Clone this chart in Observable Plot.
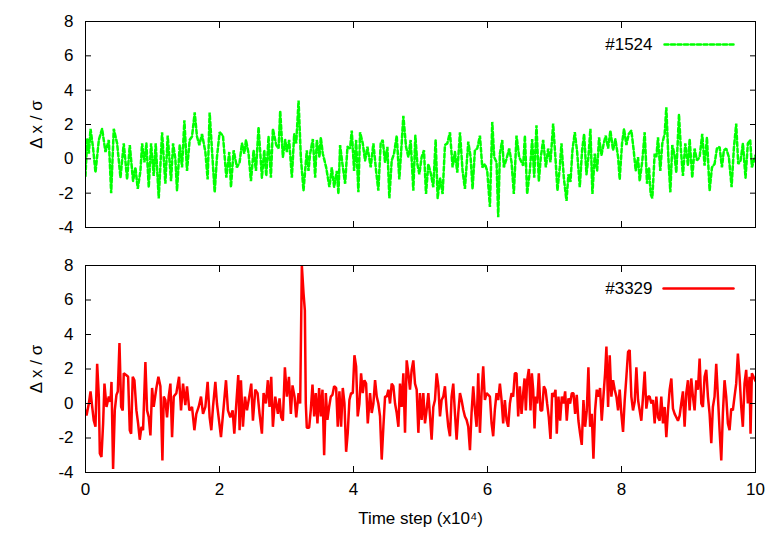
<!DOCTYPE html>
<html><head><meta charset="utf-8">
<script src="https://cdn.jsdelivr.net/npm/d3@7"></script>
<script src="https://cdn.jsdelivr.net/npm/@observablehq/plot@0.6"></script>
<style>
html,body{margin:0;padding:0;background:#fff;}
#chart svg{display:block;}
</style></head><body><div id="chart"></div>
<script>
// [time step (x10^4), Δx/σ]
const series1524 = [[0,-1.0],[0.025,1.2],[0.05,0.3],[0.075,1.75],[0.114,0.6],[0.149,-0.8],[0.199,1.1],[0.248,1.75],[0.298,0.4],[0.348,1.1],[0.383,-2.0],[0.422,1.75],[0.472,0.9],[0.522,-1.1],[0.571,0.9],[0.621,-1.2],[0.661,0.8],[0.71,-1.3],[0.745,-0.5],[0.78,-1.75],[0.82,-0.7],[0.845,0.9],[0.879,-0.2],[0.909,0.9],[0.944,-1.65],[0.979,0.9],[1.018,-1.0],[1.048,0.9],[1.093,-2.3],[1.143,1.55],[1.192,-1.45],[1.227,1.35],[1.277,-1.3],[1.307,0.9],[1.341,0],[1.366,-1.85],[1.406,0.8],[1.441,-0.5],[1.476,2.25],[1.515,-0.7],[1.555,1.1],[1.59,1.3],[1.63,2.7],[1.664,1.3],[1.699,0.8],[1.739,1.45],[1.789,0.4],[1.823,-1.2],[1.853,2.7],[1.888,0.5],[1.928,-1.95],[1.962,0.1],[2.002,1.55],[2.052,1.35],[2.102,-1.1],[2.146,0.4],[2.171,-1.65],[2.211,0.5],[2.26,-0.5],[2.3,-0.2],[2.335,0.9],[2.37,0.3],[2.395,1.1],[2.434,0.3],[2.469,-1.3],[2.509,0.5],[2.544,-0.7],[2.583,1.85],[2.633,-1.1],[2.668,0.5],[2.698,-1.0],[2.732,1.3],[2.767,-1.1],[2.797,1.75],[2.847,0.8],[2.882,0.6],[2.906,2.8],[2.946,0.1],[2.981,1.1],[3.006,0.4],[3.04,1.1],[3.08,-1.1],[3.115,1.45],[3.145,0.9],[3.18,3.4],[3.214,0.1],[3.254,-1.85],[3.303,0.5],[3.328,-0.7],[3.353,0.3],[3.393,1.15],[3.428,-1.1],[3.452,1.1],[3.492,0.1],[3.512,1.25],[3.542,0.3],[3.592,-0.5],[3.641,-1.65],[3.676,-0.5],[3.711,-1.65],[3.751,-0.7],[3.775,-2.05],[3.8,0.8],[3.835,-0.3],[3.875,-1.45],[3.91,0.7],[3.949,0.6],[3.974,1.65],[4.009,-0.7],[4.039,1.1],[4.073,-1.95],[4.098,1.55],[4.138,0.9],[4.173,-0.1],[4.208,0.7],[4.257,-0.5],[4.297,0.9],[4.337,-0.7],[4.371,-1.85],[4.406,0.9],[4.436,1.1],[4.471,-0.2],[4.506,0.7],[4.535,-2.3],[4.57,-0.1],[4.605,0.3],[4.645,1.35],[4.684,-1.2],[4.719,0.9],[4.744,2.5],[4.784,0.7],[4.819,0.1],[4.853,1.1],[4.893,-1.85],[4.923,1.35],[4.953,-0.3],[4.983,-0.9],[5.017,0.1],[5.052,0.5],[5.082,-2.05],[5.117,-0.3],[5.156,-0.9],[5.191,-1.65],[5.226,1.1],[5.256,-2.3],[5.291,-1.1],[5.33,-2.05],[5.365,0.8],[5.4,0.9],[5.44,1.55],[5.479,-0.5],[5.514,0.4],[5.549,-0.8],[5.589,1.55],[5.628,-0.7],[5.663,-1.75],[5.713,1.0],[5.748,0.1],[5.777,-1.75],[5.812,0.5],[5.847,0.6],[5.887,1.35],[5.922,-0.5],[5.961,-0.3],[5.996,-0.7],[6.036,-2.8],[6.071,2.15],[6.1,0.1],[6.135,-0.2],[6.16,-3.4],[6.185,0.3],[6.22,1.1],[6.244,-0.5],[6.284,0],[6.324,0.6],[6.359,-0.2],[6.393,-2.05],[6.433,1.35],[6.473,0.1],[6.533,-0.4],[6.558,1.35],[6.592,-2.05],[6.632,-0.7],[6.667,1.15],[6.697,-1.1],[6.731,1.95],[6.766,-1.3],[6.796,0.1],[6.831,1.1],[6.871,-0.5],[6.905,0.6],[6.94,-0.2],[6.98,2.05],[7.02,-0.3],[7.044,-1.85],[7.079,-0.5],[7.104,0.9],[7.139,-1.1],[7.179,-2.45],[7.208,-0.9],[7.238,-1.35],[7.268,0.5],[7.303,1.55],[7.338,0.4],[7.377,-1.65],[7.412,0.5],[7.442,1.45],[7.477,-0.9],[7.506,0.1],[7.536,1.75],[7.566,-2.05],[7.601,0.3],[7.636,-0.7],[7.665,1.25],[7.7,0.2],[7.735,0.9],[7.765,1.35],[7.8,0.6],[7.834,1.65],[7.874,0.5],[7.909,1.15],[7.949,0.1],[7.973,-1.2],[8.008,0.9],[8.038,1.75],[8.073,0.8],[8.108,1.45],[8.147,1.65],[8.182,0.5],[8.212,-0.7],[8.247,0.1],[8.271,-1.3],[8.311,-0.1],[8.346,1.55],[8.381,-1.45],[8.411,-0.5],[8.435,-2.05],[8.46,-2.3],[8.495,0.3],[8.52,0.1],[8.545,1.25],[8.579,-0.7],[8.609,0.9],[8.644,1.45],[8.669,3.0],[8.699,0.1],[8.729,-1.95],[8.758,0.8],[8.788,0.3],[8.818,-0.8],[8.858,2.6],[8.887,0.5],[8.917,-1.0],[8.952,0.9],[8.992,-0.4],[9.017,1.15],[9.056,-1.1],[9.091,0.6],[9.126,-0.1],[9.166,0.1],[9.205,1.45],[9.24,-0.4],[9.275,1.25],[9.315,-1.85],[9.35,-0.5],[9.389,-0.3],[9.424,0.6],[9.464,0.7],[9.499,-0.5],[9.528,0.5],[9.563,0.6],[9.603,0.1],[9.643,-1.65],[9.677,0.6],[9.712,2.05],[9.742,-0.3],[9.777,-0.1],[9.812,0.9],[9.851,-1.1],[9.886,0.9],[9.921,1.1],[9.946,-0.5],[10,0.2]];

const series3329 = [[0,-0.4],[0.015,-0.7],[0.05,0],[0.075,0.7],[0.1,-0.2],[0.124,-1.0],[0.149,-1.35],[0.174,2.3],[0.199,0.4],[0.214,-2.9],[0.238,-3.1],[0.263,-1.15],[0.283,1.15],[0.313,-0.2],[0.348,0.4],[0.373,0.1],[0.388,1.25],[0.412,-3.8],[0.437,-0.4],[0.462,0.5],[0.482,0.7],[0.507,3.5],[0.532,-0.2],[0.556,-0.4],[0.571,1.75],[0.606,1.65],[0.636,1.55],[0.661,-1.55],[0.681,-1.75],[0.705,1.55],[0.73,1.35],[0.76,-0.4],[0.785,-1.15],[0.81,-2.1],[0.835,-1.35],[0.859,-1.55],[0.894,2.4],[0.919,-0.4],[0.944,-0.8],[0.969,-1.85],[0.994,0.9],[1.018,-0.2],[1.058,0.9],[1.088,1.55],[1.118,1.0],[1.148,-3.3],[1.168,0.4],[1.192,0.2],[1.217,-0.8],[1.242,0.4],[1.267,1.15],[1.292,-1.95],[1.317,0.4],[1.356,0.6],[1.396,1.55],[1.426,-0.4],[1.456,1.15],[1.49,-0.1],[1.515,1.0],[1.55,-0.4],[1.59,-0.2],[1.625,-1.55],[1.654,-0.6],[1.689,-0.2],[1.724,0.4],[1.754,-0.6],[1.789,-0.2],[1.823,1.25],[1.853,-0.8],[1.878,-1.55],[1.903,-0.2],[1.938,1.25],[1.962,0],[1.987,-0.8],[2.022,-1.95],[2.062,-0.2],[2.097,1.35],[2.126,-0.4],[2.161,-0.8],[2.196,-0.4],[2.221,-1.75],[2.251,0],[2.28,1.65],[2.3,-1.55],[2.32,1.35],[2.35,-1.35],[2.38,0.4],[2.41,-0.4],[2.444,0.4],[2.474,1.15],[2.499,-1.0],[2.534,0.8],[2.568,0.6],[2.598,-0.6],[2.633,-1.75],[2.658,0.6],[2.693,0],[2.722,1.35],[2.747,-0.2],[2.772,1.55],[2.797,-1.35],[2.832,0.4],[2.872,-0.6],[2.896,0.3],[2.921,-0.8],[2.946,-1.0],[2.976,2.1],[3.006,0.4],[3.036,1.55],[3.065,-0.6],[3.09,1.05],[3.12,0.4],[3.145,-0.8],[3.18,0.6],[3.204,0],[3.229,8.0],[3.254,6.4],[3.274,5.4],[3.288,0],[3.303,-1.4],[3.338,-1.4],[3.363,-0.35],[3.388,1.1],[3.413,-0.75],[3.437,0.6],[3.462,-1.15],[3.487,0.9],[3.512,-0.75],[3.537,0.8],[3.562,-3.0],[3.587,0.6],[3.611,-0.95],[3.636,-0.2],[3.661,0.4],[3.686,0.5],[3.711,1.0],[3.741,0.9],[3.765,-1.35],[3.79,0.7],[3.815,-1.35],[3.84,0.9],[3.865,0],[3.89,-2.8],[3.914,-1.7],[3.939,0.2],[3.964,0.6],[3.989,0.6],[4.014,2.8],[4.039,2.15],[4.063,-0.75],[4.088,0],[4.113,1.75],[4.138,0.6],[4.163,1.35],[4.188,1.15],[4.213,-1.15],[4.247,0.6],[4.272,-0.55],[4.297,0],[4.322,1.35],[4.347,0.4],[4.371,0],[4.396,-0.75],[4.421,-3.25],[4.446,-1.35],[4.471,0.4],[4.496,0.4],[4.521,0.8],[4.545,0],[4.57,1.15],[4.595,1.0],[4.62,0],[4.645,-0.55],[4.67,-1.35],[4.694,1.15],[4.719,-0.2],[4.744,1.75],[4.769,-1.7],[4.794,2.5],[4.819,1.75],[4.843,0.8],[4.868,1.95],[4.893,2.5],[4.918,1.15],[4.943,0.8],[4.968,-1.7],[4.992,0.6],[5.017,-0.95],[5.042,0.6],[5.067,-1.15],[5.092,-0.35],[5.117,0.6],[5.142,-0.75],[5.166,-2.1],[5.191,-0.2],[5.216,0.2],[5.241,1.75],[5.266,1.0],[5.291,-0.75],[5.315,0.2],[5.34,0.4],[5.365,1.0],[5.39,-0.35],[5.415,-1.35],[5.44,-1.9],[5.464,0.4],[5.489,1.15],[5.514,-0.55],[5.539,-2.1],[5.564,-0.55],[5.589,0.6],[5.613,0.2],[5.638,-0.35],[5.663,-0.75],[5.688,-0.95],[5.713,-1.35],[5.738,-2.7],[5.762,-0.55],[5.787,1.0],[5.812,-0.35],[5.837,-1.35],[5.862,1.75],[5.887,-1.7],[5.911,0.6],[5.936,2.15],[5.961,0.2],[5.986,0.6],[6.011,0.5],[6.036,0.4],[6.061,-1.15],[6.085,-1.9],[6.11,-0.35],[6.135,0.6],[6.16,0.2],[6.185,1.15],[6.21,0.2],[6.234,-1.15],[6.259,0.2],[6.284,-0.95],[6.309,-1.35],[6.334,0],[6.359,0.6],[6.383,0.4],[6.408,1.75],[6.433,1.75],[6.458,-0.75],[6.483,1.0],[6.508,-0.6],[6.533,0.6],[6.553,1.45],[6.572,-0.4],[6.592,1.35],[6.617,2.0],[6.642,-0.4],[6.662,1.75],[6.682,0.8],[6.702,-1.45],[6.721,0.4],[6.741,0],[6.766,1.75],[6.791,-0.4],[6.816,-0.4],[6.841,1.0],[6.866,0.8],[6.89,0],[6.915,-0.8],[6.94,-2.05],[6.965,0.6],[6.99,0.4],[7.015,0.8],[7.034,-1.75],[7.059,0.4],[7.084,-1.0],[7.109,0.4],[7.134,0],[7.159,0.7],[7.183,-1.0],[7.208,0.3],[7.233,0],[7.258,0.6],[7.283,0.6],[7.308,-0.6],[7.332,0.5],[7.357,-1.0],[7.382,-1.75],[7.407,-2.4],[7.432,0.2],[7.457,-1.35],[7.482,-0.4],[7.506,2.1],[7.531,-1.35],[7.556,-0.6],[7.581,-3.2],[7.606,-0.4],[7.631,0.8],[7.655,0.4],[7.68,0.9],[7.705,-1.0],[7.73,0.4],[7.755,1.75],[7.775,3.3],[7.8,-0.2],[7.824,2.8],[7.849,0.4],[7.874,1.35],[7.899,0.8],[7.924,0.4],[7.949,-0.4],[7.973,0.8],[7.998,-0.6],[8.023,-1.65],[8.048,0.2],[8.073,1.55],[8.098,3.0],[8.122,3.1],[8.147,0.4],[8.172,-0.4],[8.197,0.1],[8.222,2.1],[8.247,0.2],[8.271,-0.4],[8.296,-1.0],[8.321,0.4],[8.346,1.85],[8.371,-0.3],[8.396,0.4],[8.42,0.4],[8.445,0],[8.47,0.2],[8.495,-1.15],[8.52,0.4],[8.545,-0.8],[8.569,-1.0],[8.594,0.4],[8.619,-1.15],[8.644,-0.2],[8.669,-1.95],[8.694,-0.4],[8.719,0.8],[8.744,1.45],[8.768,-0.3],[8.793,-0.6],[8.818,-0.8],[8.843,-1.0],[8.868,-0.7],[8.892,0],[8.917,0.7],[8.942,-1.35],[8.967,0.6],[8.992,1.35],[9.017,-0.4],[9.041,1.45],[9.066,0.4],[9.091,-0.4],[9.116,1.35],[9.141,0.8],[9.166,2.6],[9.191,0],[9.215,-0.2],[9.24,1.55],[9.265,1.95],[9.29,0.4],[9.315,-0.6],[9.34,-2.3],[9.364,-0.2],[9.389,0.4],[9.414,2.3],[9.439,0.4],[9.464,-1.55],[9.489,-3.3],[9.513,-0.6],[9.538,1.35],[9.563,0.4],[9.588,-1.15],[9.613,-1.55],[9.638,-0.3],[9.662,-0.4],[9.687,0.4],[9.712,1.15],[9.737,2.9],[9.762,1.55],[9.787,-0.2],[9.811,-1.35],[9.836,1.15],[9.861,1.95],[9.886,0],[9.911,1.55],[9.926,-1.75],[9.946,1.75],[10,1.3]];

const seriesNames = ["#1524", "#3329"];
const seriesColors = ["#00ff00", "#ff0000"];
const seriesDash = ["4,2.5", null];
const xTicks = [0, 2, 4, 6, 8, 10];
const yTicks = [-4, -2, 0, 2, 4, 6, 8];
const yLabel = "Δ x / σ";
const xLabel = "Time step (x10⁴)";

const lineShape = {draw(ctx, l) { ctx.moveTo(0, 0); ctx.lineTo(0, -l); }};

function panel(data, i, opts) {
  const {height, marginTop, marginBottom, showXLabels} = opts;
  return Plot.plot({
    width: 778, height, marginLeft: 85, marginRight: 23, marginTop, marginBottom,
    style: {fontFamily: "'Liberation Sans', Arial, sans-serif", fontSize: "17px", color: "#000", background: "#fff", overflow: "visible"},
    x: {domain: [0, 10]},
    y: {domain: [-4, 8]},
    marks: [
      Plot.line(data, {x: d => d[0], y: d => d[1], stroke: seriesColors[i], strokeWidth: 2.5, strokeDasharray: seriesDash[i], strokeLinejoin: "miter", clip: true}),
      Plot.frame({stroke: "#000", strokeWidth: 1}),
      Plot.axisY(yTicks, {anchor: "left", tickSize: -6, tickPadding: 18, tickFormat: d => String(d),
        label: yLabel, labelAnchor: "center", labelArrow: "none", labelOffset: 56}),
      Plot.axisY(yTicks, {anchor: "right", tickSize: -6, tickFormat: () => "", label: null}),
      Plot.axisX(xTicks, {anchor: "top", tickSize: -6, tickFormat: () => "", label: null}),
      showXLabels
        ? Plot.axisX(xTicks, {anchor: "bottom", tickSize: -6, tickPadding: 16, tickFormat: d => String(d),
            label: xLabel, labelAnchor: "center", labelArrow: "none", labelOffset: 51})
        : Plot.axisX(xTicks, {anchor: "bottom", tickSize: -6, tickFormat: () => "", label: null}),
      Plot.text([seriesNames[i]], {frameAnchor: "top-right", dx: -103, dy: 23, textAnchor: "end", lineAnchor: "middle", text: d => d, fill: "#000"}),
      Plot.vector([seriesNames[i]], {frameAnchor: "top-right", dx: -22, dy: 23, length: 70, rotate: -90, anchor: "start",
        shape: lineShape, stroke: seriesColors[i], strokeWidth: 2.5, strokeDasharray: seriesDash[i]})
    ]
  });
}

const root = document.getElementById("chart");
root.append(panel(series1524, 0, {height: 247, marginTop: 21, marginBottom: 20, showXLabels: false}));
root.append(panel(series3329, 1, {height: 298, marginTop: 18, marginBottom: 73, showXLabels: true}));
</script></body></html>
